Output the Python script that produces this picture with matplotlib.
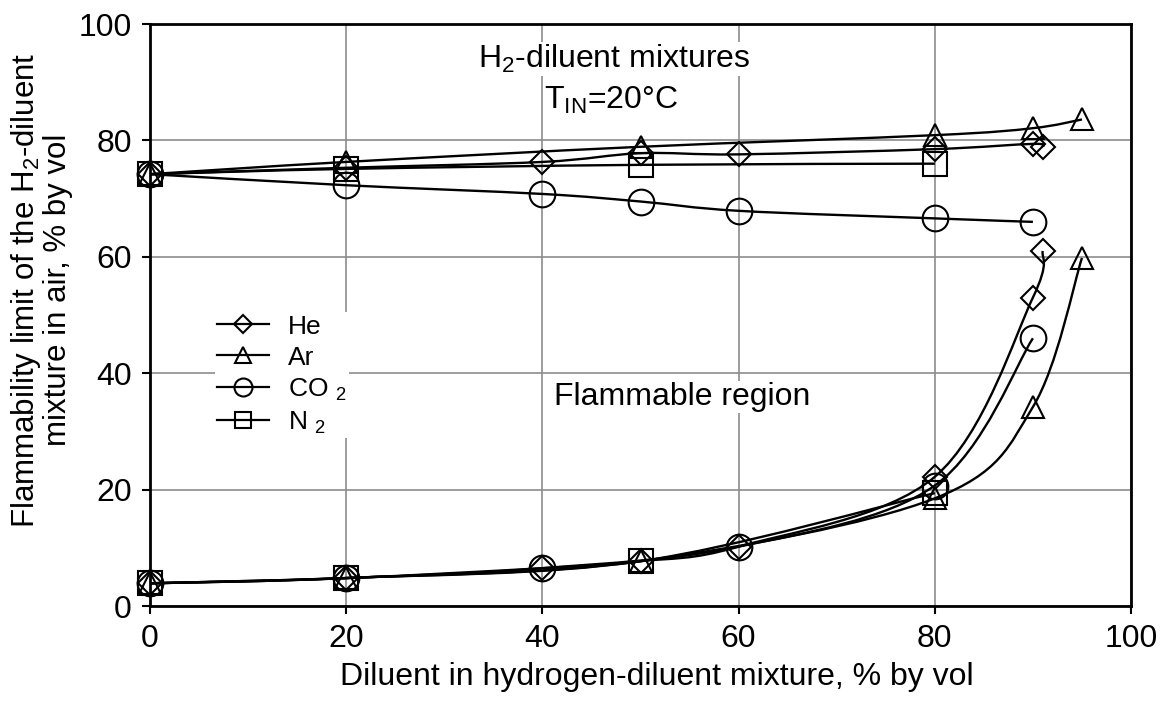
import numpy as np
import matplotlib
matplotlib.use('Agg')
import matplotlib.pyplot as plt
from matplotlib.path import Path
from matplotlib.patches import PathPatch
from matplotlib.lines import Line2D

plt.rcParams['font.family'] = ['Liberation Sans', 'DejaVu Sans']
plt.rcParams['mathtext.fontset'] = 'custom'
plt.rcParams['mathtext.rm'] = 'Liberation Sans'
plt.rcParams['mathtext.it'] = 'Liberation Sans:italic'
plt.rcParams['mathtext.default'] = 'regular'

# upper flammability limits (% H2-diluent mixture in air)
he_up_x = [0, 20, 40, 50, 60, 80, 90, 91]
he_up_y = [74.2, 75.3, 76.3, 77.8, 77.6, 78.5, 79.4, 78.9]
ar_up_x = [0, 20, 50, 80, 90, 95]
ar_up_y = [74.2, 76.3, 78.9, 80.9, 82.1, 83.6]
co2_up_x = [0, 20, 40, 50, 60, 80, 90]
co2_up_y = [74.2, 72.3, 70.8, 69.5, 67.9, 66.6, 66.0]
n2_up_x = [0, 20, 50, 80]
n2_up_y = [74.2, 75.1, 75.8, 76.0]

# lower flammability limits
he_lo_x = [0, 20, 40, 50, 60, 80, 90, 91]
he_lo_y = [3.9, 4.8, 6.5, 7.7, 10.2, 22.2, 53.0, 61.0]
ar_lo_x = [0, 20, 50, 80, 90, 95]
ar_lo_y = [3.9, 4.8, 7.7, 18.5, 34.2, 59.8]
co2_lo_x = [0, 20, 40, 60, 80, 90]
co2_lo_y = [3.9, 4.8, 6.5, 10.2, 20.7, 46.0]
n2_lo_x = [0, 20, 50, 80]
n2_lo_y = [3.9, 4.8, 7.7, 19.4]

gases = ['He', 'Ar', 'CO $_2$', 'N $_2$']
markers = ['D', '^', 'o', 's']
msizes = [12.5, 16.5, 18.5, 17.0]


def smooth_path(x, y):
    # smoothed (Bezier) line through the points, like a spreadsheet "smoothed line"
    pts = np.column_stack([x, y]).astype(float)
    n = len(pts)
    verts = [pts[0]]
    codes = [Path.MOVETO]
    for i in range(n - 1):
        p0 = pts[i - 1] if i > 0 else pts[i]
        p1 = pts[i]
        p2 = pts[i + 1]
        p3 = pts[i + 2] if i + 2 < n else pts[i + 1]
        verts += [p1 + (p2 - p0) / 6.0, p2 - (p3 - p1) / 6.0, p2]
        codes += [Path.CURVE4] * 3
    return Path(verts, codes)


fig = plt.figure(figsize=(11.62, 7.02), dpi=100)
ax = fig.add_axes([150 / 1162, 1 - 606 / 702, 981 / 1162, 582 / 702])

series = [
    (he_up_x, he_up_y, he_lo_x, he_lo_y),
    (ar_up_x, ar_up_y, ar_lo_x, ar_lo_y),
    (co2_up_x, co2_up_y, co2_lo_x, co2_lo_y),
    (n2_up_x, n2_up_y, n2_lo_x, n2_lo_y),
]

for (ux, uy, lx, ly), m, ms in zip(series, markers, msizes):
    for xs, ys in [(ux, uy), (lx, ly)]:
        ax.add_patch(PathPatch(smooth_path(xs, ys), fill=False, edgecolor='black',
                               lw=1.7, zorder=3))
        ax.plot(xs, ys, ls='none', marker=m, ms=ms, mfc='none', mec='black',
                mew=1.5, zorder=4, clip_on=False)

ax.set_xlim(0, 100)
ax.set_ylim(0, 100)
ax.set_xticks([0, 20, 40, 60, 80, 100])
ax.set_yticks([0, 20, 40, 60, 80, 100])
ax.grid(True, color='#8c8c8c', lw=1.2, zorder=0)
ax.set_axisbelow(True)
for s in ax.spines.values():
    s.set_linewidth(2.0)
ax.tick_params(direction='out', length=6, width=1.5, labelsize=23, pad=7)

handles = [Line2D([], [], color='black', lw=1.6, marker=m, ms=ms * 0.7, mfc='none',
                  mec='black', mew=1.5) for m, ms in zip(markers, msizes)]
leg = ax.legend(handles, gases, loc='upper left', bbox_to_anchor=(0.066, 0.505),
                fontsize=19, frameon=True, handlelength=1.95, handletextpad=0.72,
                labelspacing=0.26, borderpad=0.1, borderaxespad=0.0, fancybox=False)
leg.get_frame().set_edgecolor('none')
leg.get_frame().set_facecolor('white')
leg.get_frame().set_alpha(1)

box = dict(facecolor='white', edgecolor='none', pad=1)
ax.text(47.3, 94.0, 'H$_2$-diluent mixtures', fontsize=23, ha='center', va='center',
        bbox=box, zorder=2)
ax.text(47.0, 86.9, 'T$_{IN}$=20°C', fontsize=23, ha='center', va='center',
        bbox=box, zorder=2)
ax.text(54.2, 35.9, 'Flammable region', fontsize=23, ha='center', va='center',
        bbox=box, zorder=2)

fig.text(657 / 1162, 1 - 677 / 702, 'Diluent in hydrogen-diluent mixture, % by vol',
         fontsize=23, ha='center', va='center')
fig.text(41 / 1162, 1 - 290 / 702,
         'Flammability limit of the H$_2$-diluent\nmixture in air, % by vol',
         fontsize=22.5, ha='center', va='center', rotation=90, multialignment='center',
         linespacing=1.0)

fig.savefig('out.png', dpi=100)
